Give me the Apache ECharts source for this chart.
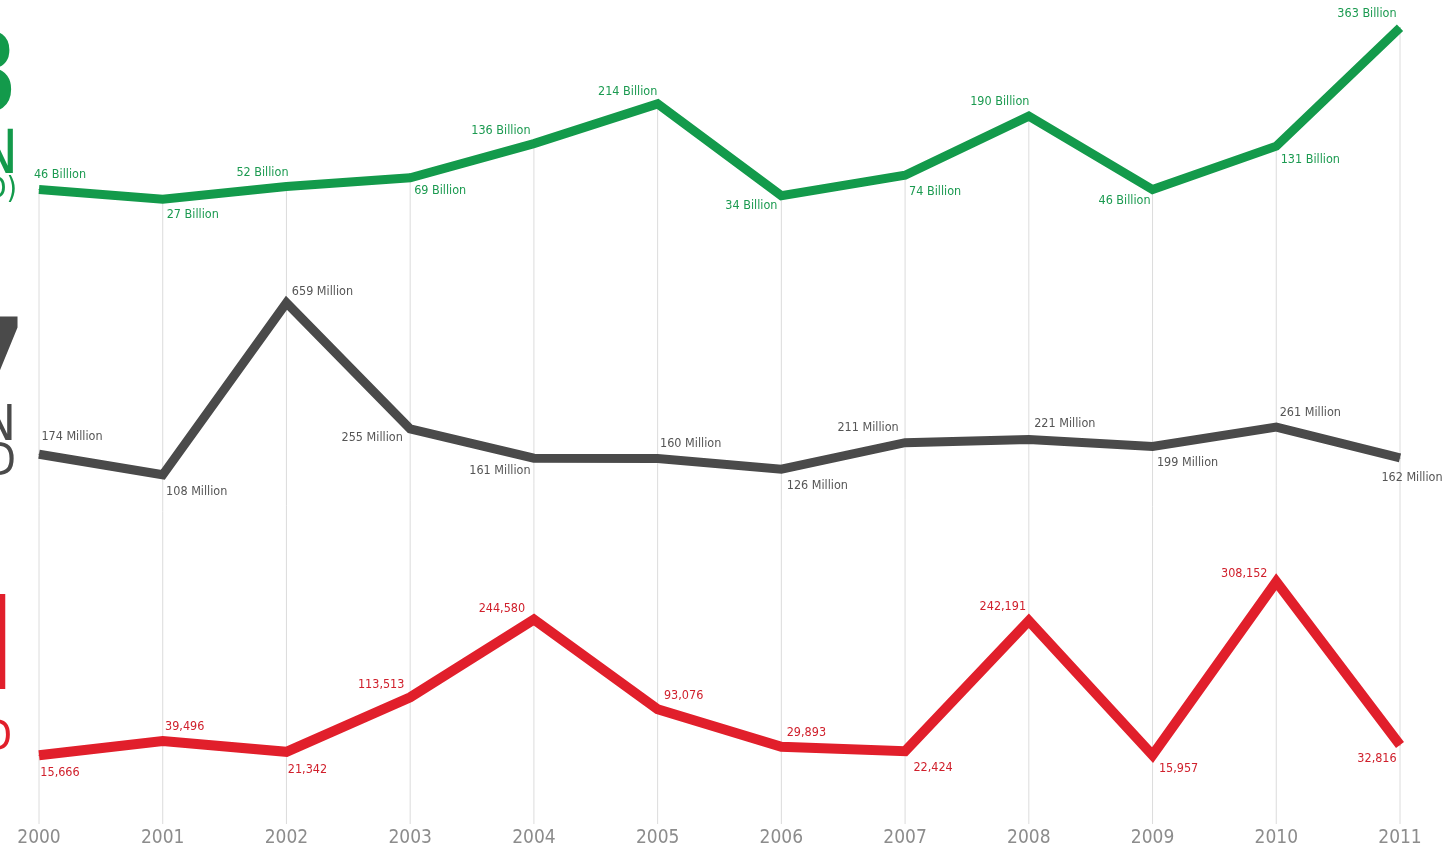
<!DOCTYPE html>
<html>
<head>
<meta charset="utf-8">
<script src="https://cdn.jsdelivr.net/npm/echarts@6/dist/echarts.min.js"></script>
<style>
html,body{margin:0;padding:0;background:#fff;}
#chart{width:1445px;height:853px;}
</style>
</head>
<body>
<div id="chart"></div>
<script>
// ---- data ----
const years = ['2000','2001','2002','2003','2004','2005','2006','2007','2008','2009','2010','2011'];
const damageBillions = [46, 27, 52, 69, 136, 214, 34, 74, 190, 46, 131, 363];
const affectedMillions = [174, 108, 659, 255, 161, 160, 126, 211, 221, 199, 261, 162];
const deaths = [15666, 39496, 21342, 113513, 244580, 93076, 29893, 22424, 242191, 15957, 308152, 32816];

// ---- layout (label offsets from each point) ----
const greenOffsets = [[21,-15],[30,16],[-24,-14],[30,13],[-33,-13],[-30,-12],[-30,10],[30,16],[-29,-14],[-28,11],[34,14],[-33,-14]];
const grayOffsets = [[33,-17],[34,17],[36,-11],[-38,9],[-34,13],[33,-15],[36,17],[-37,-15],[36,-16],[35,16],[34,-14],[12,20]];
const redOffsets = [[21,18],[22,-14],[21,18],[-29,-12],[-32,-11],[26,-14],[25,-14],[28,17],[-26,-14],[26,14],[-32,-8],[-23,14]];

const GREEN = '#139a4b', GRAY = '#4a4a4a', RED = '#e11f2b';
const FONT = '"Liberation Sans Narrow","DejaVu Sans Condensed","Roboto Condensed",sans-serif';

function mkData(vals, offs) {
  return vals.map((v, i) => ({ value: v, label: { offset: offs[i] } }));
}
function fmtThousands(n) { return String(n).replace(/\B(?=(\d{3})+(?!\d))/g, ','); }

const chart = echarts.init(document.getElementById('chart'));
const LEFT = 39, RIGHT = 45;

function lineSeries(idx, vals, offs, color, width, labelColor, fmt) {
  return {
    type: 'line', xAxisIndex: idx, yAxisIndex: idx,
    data: mkData(vals, offs),
    symbol: 'circle', symbolSize: 1, showSymbol: true,
    itemStyle: { color: color },
    lineStyle: { color: color, width: width, join: 'miter' },
    z: 5,
    animation: false,
    label: {
      show: true, position: 'inside', align: 'center', verticalAlign: 'middle',
      color: labelColor, fontSize: 12.5, fontFamily: FONT,
      formatter: p => fmt(p.value)
    }
  };
}

const option = {
  backgroundColor: '#fff',
  animation: false,
  grid: [
    { left: LEFT, right: RIGHT, top: 9, height: 204 },
    { left: LEFT, right: RIGHT, top: 290, height: 218.5 },
    { left: LEFT, right: RIGHT, top: 557, height: 207.5 }
  ],
  xAxis: [0,1,2].map(i => ({
    type: 'category', gridIndex: i, data: years, boundaryGap: false,
    axisLine: { show: false }, axisTick: { show: false }, splitLine: { show: false },
    axisLabel: i === 2 ? { show: true, margin: 64, color: '#8c8c8c', fontSize: 19, fontFamily: FONT } : { show: false }
  })),
  yAxis: [
    { type: 'value', gridIndex: 0, min: 0, max: 400, show: false },
    { type: 'value', gridIndex: 1, min: 0, max: 700, show: false },
    { type: 'value', gridIndex: 2, min: 0, max: 350000, show: false }
  ],
  series: [
    {
      type: 'custom', xAxisIndex: 0, yAxisIndex: 0, clip: false, z: 1, silent: true,
      data: damageBillions.map((v, i) => [i, v]),
      renderItem: function (params, api) {
        const p = api.coord([api.value(0), api.value(1)]);
        return {
          type: 'line',
          shape: { x1: p[0], y1: p[1], x2: p[0], y2: 824 },
          style: { stroke: '#dcdcdc', lineWidth: 1 }
        };
      }
    },
    lineSeries(0, damageBillions, greenOffsets, GREEN, 9, '#1b9a50', v => v + ' Billion'),
    lineSeries(1, affectedMillions, grayOffsets, GRAY, 9, '#555555', v => v + ' Million'),
    lineSeries(2, deaths, redOffsets, RED, 10, '#d0202c', v => fmtThousands(v))
  ],
  graphic: [
    { type: 'text', silent: true, style: { text: '$363', x: 19, y: 83, align: 'right', verticalAlign: 'middle', fill: GREEN, font: 'bold 112px ' + FONT } },
    { type: 'text', silent: true, style: { text: 'BILLION', x: 18, y: 157, align: 'right', verticalAlign: 'middle', fill: GREEN, font: 'normal 60px ' + FONT } },
    { type: 'text', silent: true, style: { text: '(USD)', x: 17, y: 190, align: 'right', verticalAlign: 'middle', fill: GREEN, font: 'normal 30px ' + FONT } },
    { type: 'text', silent: true, style: { text: '2.7', x: 25, y: 366, align: 'right', verticalAlign: 'middle', fill: GRAY, font: 'bold 105px ' + FONT } },
    { type: 'text', silent: true, style: { text: 'BILLION', x: 16, y: 427, align: 'right', verticalAlign: 'middle', fill: GRAY, font: 'normal 50px ' + FONT } },
    { type: 'text', silent: true, style: { text: 'AFFECTED', x: 16, y: 464, align: 'right', verticalAlign: 'middle', fill: GRAY, font: 'normal 44px ' + FONT } },
    { type: 'text', silent: true, style: { text: 'I', x: 16, y: 655, align: 'right', verticalAlign: 'middle', fill: RED, font: 'bold 130px ' + FONT } },
    { type: 'text', silent: true, style: { text: 'KILLED', x: 12, y: 739, align: 'right', verticalAlign: 'middle', fill: RED, font: 'normal 42px ' + FONT } }
  ]
};
chart.setOption(option);
</script>
</body>
</html>
